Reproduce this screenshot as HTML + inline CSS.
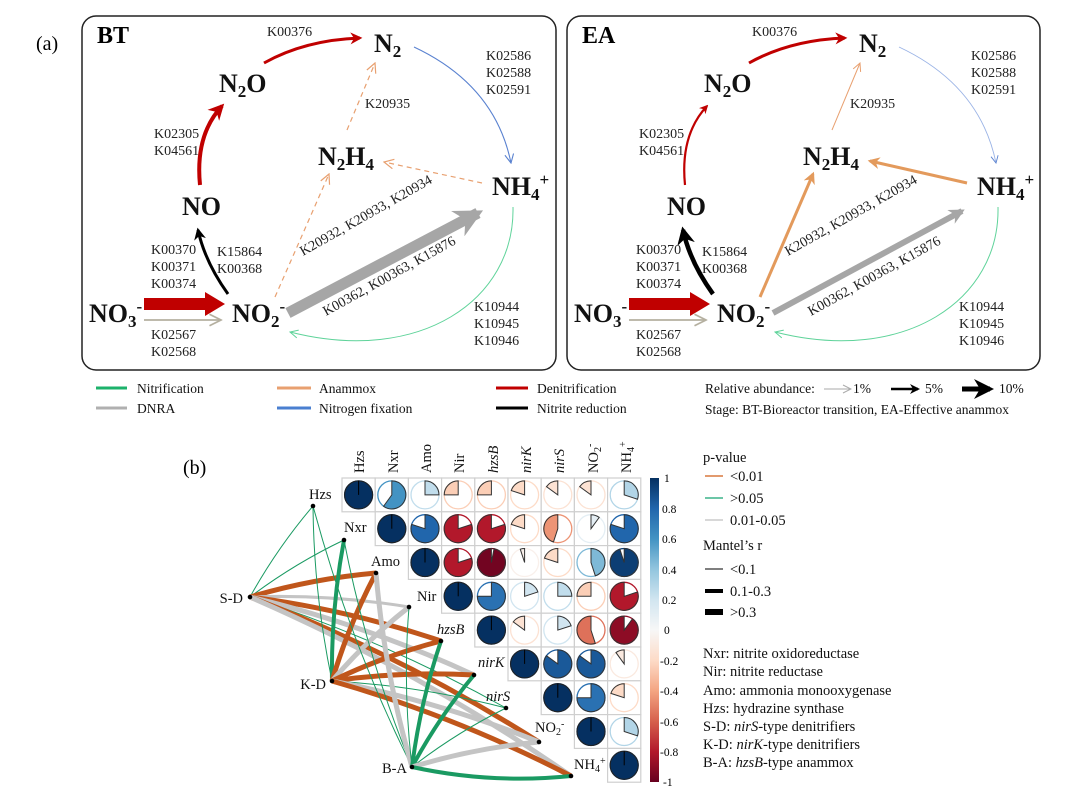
<!DOCTYPE html>
<html><head><meta charset="utf-8"><style>
html,body{margin:0;padding:0;background:#fff;}
svg{display:block;font-family:"Liberation Serif",serif;}
.k{font-size:14px;fill:#222;}
.n{font-size:26px;font-weight:bold;fill:#111;}
.lg{font-size:13.5px;fill:#111;}
.b{font-size:14.5px;fill:#111;}
</style></head><body>
<svg id="s" width="1080" height="787" viewBox="0 0 1080 787" xmlns="http://www.w3.org/2000/svg">
<defs>
<marker id="mr" viewBox="0 0 10 10" refX="8" refY="5" markerWidth="4" markerHeight="4" orient="auto"><path d="M0,0L10,5L0,10L3,5z" fill="#c00000"/></marker>
<marker id="mk" viewBox="0 0 10 10" refX="8" refY="5" markerWidth="4" markerHeight="4" orient="auto"><path d="M0,0L10,5L0,10L3,5z" fill="#000"/></marker>
<marker id="mg" viewBox="0 0 10 10" refX="8" refY="5" markerWidth="2.6" markerHeight="2.6" orient="auto"><path d="M0,0L10,5L0,10L3,5z" fill="#a6a6a6"/></marker>
<marker id="mt" viewBox="0 0 10 10" refX="9" refY="5" markerWidth="8" markerHeight="8" orient="auto"><path d="M1,1L9,5L1,9" fill="none" stroke="#b5b0a0" stroke-width="1.2"/></marker>
<marker id="mo" viewBox="0 0 10 10" refX="9" refY="5" markerWidth="10" markerHeight="10" orient="auto"><path d="M1,1L9,5L1,9" fill="none" stroke="#e8a070" stroke-width="1"/></marker>
<marker id="mO" viewBox="0 0 10 10" refX="8" refY="5" markerWidth="4" markerHeight="4" orient="auto"><path d="M0,0L10,5L0,10L3,5z" fill="#e39a5c"/></marker>
<marker id="mb" viewBox="0 0 10 10" refX="9" refY="5" markerWidth="10" markerHeight="10" orient="auto"><path d="M1,1L9,5L1,9" fill="none" stroke="#5a82d0" stroke-width="1"/></marker>
<marker id="mgr" viewBox="0 0 10 10" refX="9" refY="5" markerWidth="10" markerHeight="10" orient="auto"><path d="M1,1L9,5L1,9" fill="none" stroke="#5fd39a" stroke-width="1"/></marker>
<marker id="ml" viewBox="0 0 10 10" refX="9" refY="5" markerWidth="10" markerHeight="10" orient="auto"><path d="M1,1L9,5L1,9" fill="none" stroke="#aaa" stroke-width="1"/></marker>
</defs>

<text x="36" y="50" style="font-size:20px">(a)</text>

<!-- BT panel -->
<g>
<rect x="82" y="16" width="474" height="354" rx="14" fill="none" stroke="#222" stroke-width="1.5"/>
<text x="97" y="43" style="font-size:24px;font-weight:bold">BT</text>
<path d="M264,63 Q305,40 360,38" fill="none" stroke="#c00000" stroke-width="3" marker-end="url(#mr)"/>
<text x="267" y="36" class="k">K00376</text>
<path d="M200,185 Q195,135 222,106" fill="none" stroke="#c00000" stroke-width="4" marker-end="url(#mr)"/>
<text x="154" y="138" class="k">K02305</text><text x="154" y="155" class="k">K04561</text>
<path d="M228,294 Q205,262 198,230" fill="none" stroke="#000" stroke-width="3" marker-end="url(#mk)"/>
<text x="217" y="256" class="k">K15864</text><text x="217" y="273" class="k">K00368</text>
<text x="151" y="254" class="k">K00370</text><text x="151" y="271" class="k">K00371</text><text x="151" y="288" class="k">K00374</text>
<polygon points="144,298 205,298 205,292 225,304 205,316 205,310 144,310" fill="#c00000"/>
<line x1="144" y1="320" x2="221" y2="320" stroke="#b5b0a0" stroke-width="1.8" marker-end="url(#mt)"/>
<text x="151" y="339" class="k">K02567</text><text x="151" y="356" class="k">K02568</text>
<line x1="288" y1="313" x2="478" y2="213" stroke="#a6a6a6" stroke-width="11" marker-end="url(#mg)"/>
<line x1="275" y1="297" x2="329" y2="174" stroke="#e8a070" stroke-width="1.2" stroke-dasharray="5,4" marker-end="url(#mo)"/>
<line x1="482" y1="183" x2="384" y2="162" stroke="#e8a070" stroke-width="1.2" stroke-dasharray="5,4" marker-end="url(#mo)"/>
<line x1="347" y1="130" x2="375" y2="63" stroke="#e8a070" stroke-width="1.2" stroke-dasharray="5,4" marker-end="url(#mo)"/>
<text x="365" y="108" class="k">K20935</text>
<path d="M414,47 Q495,85 511,163" fill="none" stroke="#5a82d0" stroke-width="1.1" marker-end="url(#mb)"/>
<text x="486" y="60" class="k">K02586</text><text x="486" y="77" class="k">K02588</text><text x="486" y="94" class="k">K02591</text>
<path d="M513,207 C515,300 420,365 290,332" fill="none" stroke="#5fd39a" stroke-width="1" marker-end="url(#mgr)"/>
<text x="474" y="311" class="k">K10944</text><text x="474" y="328" class="k">K10945</text><text x="474" y="345" class="k">K10946</text>
<text class="k" transform="translate(303,256) rotate(-29.5)">K20932, K20933, K20934</text>
<text class="k" transform="translate(326,316) rotate(-29)">K00362, K00363, K15876</text>
<text x="374" y="52" class="n">N<tspan dy="5" style="font-size:17px">2</tspan></text>
<text x="219" y="92" class="n">N<tspan dy="5" style="font-size:17px">2</tspan><tspan dy="-5">O</tspan></text>
<text x="182" y="215" class="n">NO</text>
<text x="89" y="322" class="n">NO<tspan dy="5" style="font-size:17px">3</tspan><tspan dy="-15" style="font-size:17px">-</tspan></text>
<text x="232" y="322" class="n">NO<tspan dy="5" style="font-size:17px">2</tspan><tspan dy="-15" style="font-size:17px">-</tspan></text>
<text x="318" y="165" class="n">N<tspan dy="5" style="font-size:17px">2</tspan><tspan dy="-5">H</tspan><tspan dy="5" style="font-size:17px">4</tspan></text>
<text x="492" y="195" class="n">NH<tspan dy="5" style="font-size:17px">4</tspan><tspan dy="-15" style="font-size:17px">+</tspan></text>
</g>

<!-- EA panel -->
<g transform="translate(485,0)">
<rect x="82" y="16" width="473" height="354" rx="14" fill="none" stroke="#222" stroke-width="1.5"/>
<text x="97" y="43" style="font-size:24px;font-weight:bold">EA</text>
<path d="M264,63 Q305,40 360,38" fill="none" stroke="#c00000" stroke-width="3" marker-end="url(#mr)"/>
<text x="267" y="36" class="k">K00376</text>
<path d="M200,185 Q195,135 222,106" fill="none" stroke="#c00000" stroke-width="2.2" marker-end="url(#mr)"/>
<text x="154" y="138" class="k">K02305</text><text x="154" y="155" class="k">K04561</text>
<path d="M228,294 Q205,262 198,230" fill="none" stroke="#000" stroke-width="4.5" marker-end="url(#mk)"/>
<text x="217" y="256" class="k">K15864</text><text x="217" y="273" class="k">K00368</text>
<text x="151" y="254" class="k">K00370</text><text x="151" y="271" class="k">K00371</text><text x="151" y="288" class="k">K00374</text>
<polygon points="144,298 205,298 205,292 225,304 205,316 205,310 144,310" fill="#c00000"/>
<line x1="144" y1="320" x2="221" y2="320" stroke="#b5b0a0" stroke-width="1.8" marker-end="url(#mt)"/>
<text x="151" y="339" class="k">K02567</text><text x="151" y="356" class="k">K02568</text>
<line x1="288" y1="313" x2="477" y2="211" stroke="#a6a6a6" stroke-width="6" style="marker-end:url(#mg)"/>
<line x1="275" y1="297" x2="328" y2="174" stroke="#e39a5c" stroke-width="3" marker-end="url(#mO)"/>
<line x1="482" y1="183" x2="385" y2="161" stroke="#e39a5c" stroke-width="3" marker-end="url(#mO)"/>
<line x1="347" y1="130" x2="375" y2="63" stroke="#e8a070" stroke-width="1" marker-end="url(#mo)"/>
<text x="365" y="108" class="k">K20935</text>
<path d="M414,47 Q495,85 511,163" fill="none" stroke="#9ab3e6" stroke-width="0.9" marker-end="url(#mb)"/>
<text x="486" y="60" class="k">K02586</text><text x="486" y="77" class="k">K02588</text><text x="486" y="94" class="k">K02591</text>
<path d="M513,207 C515,300 420,365 290,332" fill="none" stroke="#5fd39a" stroke-width="1" marker-end="url(#mgr)"/>
<text x="474" y="311" class="k">K10944</text><text x="474" y="328" class="k">K10945</text><text x="474" y="345" class="k">K10946</text>
<text class="k" transform="translate(303,256) rotate(-29.5)">K20932, K20933, K20934</text>
<text class="k" transform="translate(326,316) rotate(-29)">K00362, K00363, K15876</text>
<text x="374" y="52" class="n">N<tspan dy="5" style="font-size:17px">2</tspan></text>
<text x="219" y="92" class="n">N<tspan dy="5" style="font-size:17px">2</tspan><tspan dy="-5">O</tspan></text>
<text x="182" y="215" class="n">NO</text>
<text x="89" y="322" class="n">NO<tspan dy="5" style="font-size:17px">3</tspan><tspan dy="-15" style="font-size:17px">-</tspan></text>
<text x="232" y="322" class="n">NO<tspan dy="5" style="font-size:17px">2</tspan><tspan dy="-15" style="font-size:17px">-</tspan></text>
<text x="318" y="165" class="n">N<tspan dy="5" style="font-size:17px">2</tspan><tspan dy="-5">H</tspan><tspan dy="5" style="font-size:17px">4</tspan></text>
<text x="492" y="195" class="n">NH<tspan dy="5" style="font-size:17px">4</tspan><tspan dy="-15" style="font-size:17px">+</tspan></text>
</g>

<!-- legend a -->
<g class="lg">
<line x1="96" y1="388" x2="127" y2="388" stroke="#1db26b" stroke-width="3"/><text x="137" y="393" class="lg">Nitrification</text>
<line x1="96" y1="408" x2="127" y2="408" stroke="#b0b0b0" stroke-width="3"/><text x="137" y="413" class="lg">DNRA</text>
<line x1="277" y1="388" x2="311" y2="388" stroke="#e8a070" stroke-width="3"/><text x="319" y="393" class="lg">Anammox</text>
<line x1="277" y1="408" x2="311" y2="408" stroke="#4a7fd0" stroke-width="3"/><text x="319" y="413" class="lg">Nitrogen fixation</text>
<line x1="496" y1="388" x2="528" y2="388" stroke="#c00000" stroke-width="3"/><text x="537" y="393" class="lg">Denitrification</text>
<line x1="496" y1="408" x2="528" y2="408" stroke="#000" stroke-width="3"/><text x="537" y="413" class="lg">Nitrite reduction</text>
<text x="705" y="393" class="lg">Relative abundance:</text>
<line x1="824" y1="389" x2="851" y2="389" stroke="#aaa" stroke-width="1" marker-end="url(#ml)"/><text x="853" y="393" class="lg">1%</text>
<line x1="891" y1="389" x2="918" y2="389" stroke="#000" stroke-width="2.5" marker-end="url(#mk)"/><text x="925" y="393" class="lg">5%</text>
<line x1="962" y1="389" x2="990" y2="389" stroke="#000" stroke-width="5" marker-end="url(#mk)"/><text x="999" y="393" class="lg">10%</text>
<text x="705" y="414" class="lg">Stage: BT-Bioreactor transition, EA-Effective anammox</text>
</g>

<!-- (b) -->
<text x="183" y="474" style="font-size:20px">(b)</text>
<g id="mantel"></g>
<g id="grid"></g>
<g id="pies"></g>
<g class="b">
<text transform="translate(364,473) rotate(-90)">Hzs</text>
<text transform="translate(398,473) rotate(-90)">Nxr</text>
<text transform="translate(431,473) rotate(-90)">Amo</text>
<text transform="translate(464,473) rotate(-90)">Nir</text>
<text transform="translate(498,473) rotate(-90)" font-style="italic">hzsB</text>
<text transform="translate(531,473) rotate(-90)" font-style="italic">nirK</text>
<text transform="translate(564,473) rotate(-90)" font-style="italic">nirS</text>
<text transform="translate(598,473) rotate(-90)">NO<tspan dy="3" style="font-size:10px">2</tspan><tspan dy="-8" style="font-size:10px">-</tspan></text>
<text transform="translate(631,473) rotate(-90)">NH<tspan dy="3" style="font-size:10px">4</tspan><tspan dy="-8" style="font-size:10px">+</tspan></text>
<text x="309" y="499">Hzs</text>
<text x="344" y="532">Nxr</text>
<text x="371" y="566">Amo</text>
<text x="417" y="601">Nir</text>
<text x="437" y="634" font-style="italic">hzsB</text>
<text x="478" y="667" font-style="italic">nirK</text>
<text x="486" y="701" font-style="italic">nirS</text>
<text x="535" y="732">NO<tspan dy="3" style="font-size:10px">2</tspan><tspan dy="-8" style="font-size:10px">-</tspan></text>
<text x="574" y="769">NH<tspan dy="3" style="font-size:10px">4</tspan><tspan dy="-8" style="font-size:10px">+</tspan></text>
<text x="243" y="603" text-anchor="end">S-D</text>
<text x="326" y="689" text-anchor="end">K-D</text>
<text x="407" y="773" text-anchor="end">B-A</text>
</g>

<!-- colorbar -->
<defs><linearGradient id="cb" x1="0" y1="0" x2="0" y2="1">
<stop offset="0" stop-color="#053061"/><stop offset="0.1" stop-color="#2166ac"/><stop offset="0.2" stop-color="#4393c3"/><stop offset="0.3" stop-color="#92c5de"/><stop offset="0.4" stop-color="#d1e5f0"/><stop offset="0.5" stop-color="#f7f7f7"/><stop offset="0.6" stop-color="#fddbc7"/><stop offset="0.7" stop-color="#f4a582"/><stop offset="0.8" stop-color="#d6604d"/><stop offset="0.9" stop-color="#b2182b"/><stop offset="1" stop-color="#67001f"/>
</linearGradient></defs>
<rect x="650" y="478" width="9" height="304" fill="url(#cb)"/>
<g style="font-size:11.5px">
<text x="664" y="482">1</text><text x="662" y="513">0.8</text><text x="662" y="543">0.6</text><text x="662" y="574">0.4</text><text x="662" y="604">0.2</text><text x="664" y="634">0</text><text x="660" y="665">-0.2</text><text x="660" y="695">-0.4</text><text x="660" y="726">-0.6</text><text x="660" y="756">-0.8</text><text x="663" y="786">-1</text>
</g>
<g class="b">
<text x="703" y="462">p-value</text>
<line x1="705" y1="476" x2="723" y2="476" stroke="#d9783f" stroke-width="1.5"/><text x="730" y="481">&lt;0.01</text>
<line x1="705" y1="498" x2="723" y2="498" stroke="#3cb38a" stroke-width="1.5"/><text x="730" y="503">&gt;0.05</text>
<line x1="705" y1="520" x2="723" y2="520" stroke="#ccc" stroke-width="1.5"/><text x="730" y="525">0.01-0.05</text>
<text x="703" y="550">Mantel’s r</text>
<line x1="705" y1="569" x2="723" y2="569" stroke="#333" stroke-width="1.2"/><text x="730" y="574">&lt;0.1</text>
<line x1="705" y1="591" x2="723" y2="591" stroke="#000" stroke-width="4"/><text x="730" y="596">0.1-0.3</text>
<line x1="705" y1="612" x2="723" y2="612" stroke="#000" stroke-width="6"/><text x="730" y="617">&gt;0.3</text>
<text x="703" y="658">Nxr: nitrite oxidoreductase</text>
<text x="703" y="676">Nir: nitrite reductase</text>
<text x="703" y="695">Amo: ammonia monooxygenase</text>
<text x="703" y="713">Hzs: hydrazine synthase</text>
<text x="703" y="731">S-D: <tspan font-style="italic">nirS</tspan>-type denitrifiers</text>
<text x="703" y="749">K-D: <tspan font-style="italic">nirK</tspan>-type denitrifiers</text>
<text x="703" y="767">B-A: <tspan font-style="italic">hzsB</tspan>-type anammox</text>
</g>

<script>
(function(){
var NS="http://www.w3.org/2000/svg";
function el(p,t,a){var e=document.createElementNS(NS,t);for(var k in a)e.setAttribute(k,a[k]);p.appendChild(e);return e;}
var stops=[[103,0,31],[178,24,43],[214,96,77],[244,165,130],[253,219,199],[247,247,247],[209,229,240],[146,197,222],[67,147,195],[33,102,172],[5,48,97]];
function col(v){var t=(v+1)*5;var i=Math.min(9,Math.floor(t)),f=t-i;var a=stops[i],b=stops[i+1];
return "rgb("+[0,1,2].map(function(j){return Math.round(a[j]+(b[j]-a[j])*f)}).join(",")+")";}
var V=[[1,.6,.25,-.25,-.25,-.2,-.15,-.15,.3],
[null,1,.8,-.8,-.8,-.2,-.45,.1,.8],
[null,null,1,-.8,-.97,-.05,-.2,.45,.95],
[null,null,null,1,.75,.2,.25,-.25,-.8],
[null,null,null,null,1,-.15,.2,-.55,-.9],
[null,null,null,null,null,1,.85,.85,-.1],
[null,null,null,null,null,null,1,.75,-.2],
[null,null,null,null,null,null,null,1,.3],
[null,null,null,null,null,null,null,null,1]];
var g=document.getElementById("grid"),P=document.getElementById("pies");
var X0=342,Y0=478,W=33.2,H=33.8,R=14;
for(var i=0;i<9;i++)for(var j=i;j<9;j++){
 var x=X0+W*j,y=Y0+H*i,v=V[i][j];
 el(g,"rect",{x:x,y:y,width:W,height:H,fill:"#fff",stroke:"#cfcfcf","stroke-width":1.2});
 var cx=x+W/2,cy=y+H/2,c=col(v),fr=Math.abs(v);
 el(P,"circle",{cx:cx,cy:cy,r:R,fill:"none",stroke:c,"stroke-width":1.3});
 if(fr>=0.999){el(P,"circle",{cx:cx,cy:cy,r:R,fill:c,stroke:"#222","stroke-width":1});
  el(P,"line",{x1:cx,y1:cy,x2:cx,y2:cy-R,stroke:"#000","stroke-width":1});}
 else{var sg=v<0?-1:1;var a=fr*2*Math.PI,ex=cx+sg*R*Math.sin(a),ey=cy-R*Math.cos(a);
  el(P,"path",{d:"M"+cx+","+cy+"L"+cx+","+(cy-R)+"A"+R+","+R+" 0 "+(fr>0.5?1:0)+" "+(sg>0?1:0)+" "+ex.toFixed(2)+","+ey.toFixed(2)+"Z",fill:c,stroke:"#333","stroke-width":1});}
}
var N=[[313,506],[344,540],[376,573],[409,607],[441,641],[474,675],[506,708],[539,742],[571,776]];
var S={SD:[250,597],KD:[332,681],BA:[412,767]};
var O="#c0561b",G="#1a9a62",Y="#c4c4c4";
var L={SD:[[G,1],[G,1],[O,5],[Y,3],[O,5],[Y,5],[G,1],[O,5],[Y,5]],
KD:[[G,1],[G,4],[O,5],[Y,5],[O,5],[O,5],[G,1],[Y,5],[O,5]],
BA:[[G,1],[G,1],[Y,5],[G,1],[G,4],[G,4],[G,1],[Y,5],[G,4]]};
var M=document.getElementById("mantel");
["SD","KD","BA"].forEach(function(k){var s=S[k];L[k].forEach(function(q,n){var e=N[n];
 var mx=(s[0]+e[0])/2,my=(s[1]+e[1])/2,dx=e[0]-s[0],dy=e[1]-s[1];
 var kk=(k=="BA"&&n==8)?-0.08:0.05;
 var cx=mx+dy*kk,cy=my-dx*kk;
 el(M,"path",{d:"M"+s[0]+","+s[1]+"Q"+cx.toFixed(1)+","+cy.toFixed(1)+" "+e[0]+","+e[1],fill:"none",stroke:q[0],"stroke-width":q[1]});});});
[N,[S.SD,S.KD,S.BA]].forEach(function(a){a.forEach(function(p){el(M,"circle",{cx:p[0],cy:p[1],r:2.3,fill:"#000"});});});
})();
</script>
</svg>
</body></html>
